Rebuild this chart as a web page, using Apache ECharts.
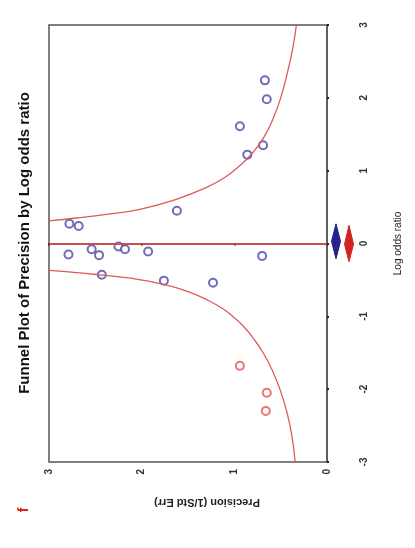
<!DOCTYPE html>
<html>
<head>
<meta charset="utf-8">
<script src="https://cdn.jsdelivr.net/npm/echarts@6/dist/echarts.min.js"></script>
<style>
html,body{margin:0;padding:0;background:#fff;}
#chart{width:415px;height:548px;}
</style>
</head>
<body>
<div id="chart"></div>
<script>
// Observed studies: precision (1/SE) and log odds ratio
var studyPrecision = [0.67, 0.65, 0.94, 0.69, 0.86, 1.62, 2.78, 2.68, 2.79, 2.54, 2.46, 2.25, 2.18, 1.93, 0.70, 2.43, 1.76, 1.23];
var studyLogOR     = [2.24, 1.98, 1.61, 1.35, 1.22, 0.45, 0.27, 0.24, -0.15, -0.08, -0.16, -0.04, -0.08, -0.11, -0.17, -0.43, -0.51, -0.54];
// Imputed (filled) studies
var filledPrecision = [0.94, 0.65, 0.66];
var filledLogOR     = [-1.68, -2.05, -2.30];
// Funnel limits
var upperP = [3.00, 2.70, 2.38, 2.02, 1.62, 1.30, 1.10, 0.94, 0.80, 0.685, 0.58, 0.50, 0.43, 0.37, 0.33];
var upperL = [0.31, 0.35, 0.40, 0.47, 0.61, 0.77, 0.91, 1.07, 1.25, 1.45, 1.72, 2.00, 2.33, 2.68, 3.00];
var lowerP = [3.00, 2.70, 2.46, 2.10, 1.77, 1.50, 1.30, 1.12, 1.01, 0.90, 0.79, 0.68, 0.577, 0.50, 0.43, 0.38, 0.343];
var lowerL = [-0.37, -0.40, -0.43, -0.48, -0.56, -0.66, -0.77, -0.90, -1.01, -1.14, -1.31, -1.52, -1.78, -2.03, -2.33, -2.63, -3.00];
// Summary line and diamonds (center, low, high)
var meanLogOR = -0.01;
var diamondObserved = [0.03, -0.21, 0.27];
var diamondAdjusted = [-0.01, -0.25, 0.25];
var xTicks = ['0', '1', '2', '3'];
var yTicks = ['-3', '-2', '-1', '0', '1', '2', '3'];

function pairs(a, b) { return a.map(function (v, i) { return [v, b[i]]; }); }

var chart = echarts.init(document.getElementById('chart'));
var diamonds = [
  {v: diamondObserved, off: 9, color: '#23238a'},
  {v: diamondAdjusted, off: 22, color: '#d42222'}
];
chart.setOption({
  animation: false,
  backgroundColor: '#ffffff',
  grid: {left: 49, right: 88, top: 25, bottom: 86, show: true, borderColor: '#555', borderWidth: 1.5},
  xAxis: {
    type: 'value', min: 0, max: 3, interval: 1, inverse: true, position: 'bottom',
    axisLine: {show: true, lineStyle: {color: '#555', width: 1.5}},
    axisTick: {show: true, length: 2, lineStyle: {color: '#222', width: 2}},
    axisLabel: {rotate: 90, margin: 7, fontFamily: 'Liberation Sans', fontSize: 10, fontWeight: 'bold', color: '#333',
      formatter: function (v) { return xTicks[Math.round(v)]; }},
    splitLine: {show: false}
  },
  yAxis: {
    type: 'value', min: -3, max: 3, interval: 1, position: 'right',
    name: 'Log odds ratio', nameLocation: 'middle', nameRotate: 90, nameGap: 66,
    nameTextStyle: {fontFamily: 'Liberation Sans', fontSize: 10, color: '#222'},
    axisLine: {show: true, lineStyle: {color: '#555', width: 1.5}},
    axisTick: {show: true, length: 2, lineStyle: {color: '#222', width: 2}},
    axisLabel: {rotate: 90, margin: 32, fontFamily: 'Liberation Sans', fontSize: 10, fontWeight: 'bold', color: '#333',
      formatter: function (v) { return yTicks[Math.round(v) + 3]; }},
    splitLine: {show: false}
  },
  graphic: [
    {type: 'text', x: 25, y: 243, rotation: Math.PI / 2,
      style: {text: 'Funnel Plot of Precision by Log odds ratio', font: 'bold 15px "Liberation Sans", Arial', fill: '#111', textAlign: 'center', textVerticalAlign: 'middle'}},
    {type: 'text', x: 207, y: 502, rotation: Math.PI,
      style: {text: 'Precision (1/Std Err)', font: 'bold 11px "Liberation Sans", Arial', fill: '#222', textAlign: 'center', textVerticalAlign: 'middle'}},
    {type: 'text', x: 24, y: 510, rotation: Math.PI / 2,
      style: {text: 'f', font: 'bold 14px "Liberation Sans", Arial', fill: '#e02020', textAlign: 'center', textVerticalAlign: 'middle'}}
  ],
  series: [
    {type: 'line', data: pairs(upperP, upperL), smooth: 0.5, symbol: 'none', lineStyle: {color: '#e05a5a', width: 1.3}},
    {type: 'line', data: pairs(lowerP, lowerL), smooth: 0.5, symbol: 'none', lineStyle: {color: '#e05a5a', width: 1.3}},
    {type: 'line', data: [[0, meanLogOR], [3, meanLogOR]], symbol: 'none', lineStyle: {color: '#e04040', width: 1.5}},
    {type: 'scatter', data: pairs(studyPrecision, studyLogOR), symbol: 'emptyCircle', symbolSize: 8,
      itemStyle: {color: '#4848a8', borderWidth: 1.3}},
    {type: 'scatter', data: pairs(filledPrecision, filledLogOR), symbol: 'emptyCircle', symbolSize: 8,
      itemStyle: {color: '#e05555', borderWidth: 1.3}},
    {type: 'custom', clip: false, data: diamonds.map(function (d) { return d.v; }),
      renderItem: function (params, api) {
        var d = diamonds[params.dataIndex];
        var xr = params.coordSys.x + params.coordSys.width + d.off;
        var yc = api.coord([0, d.v[0]])[1];
        var ylo = api.coord([0, d.v[1]])[1];
        var yhi = api.coord([0, d.v[2]])[1];
        return {type: 'polygon', shape: {points: [[xr, yhi], [xr + 4.5, yc], [xr, ylo], [xr - 4.5, yc]]},
          style: {fill: d.color, stroke: d.color}};
      }}
  ]
});
</script>
</body>
</html>
